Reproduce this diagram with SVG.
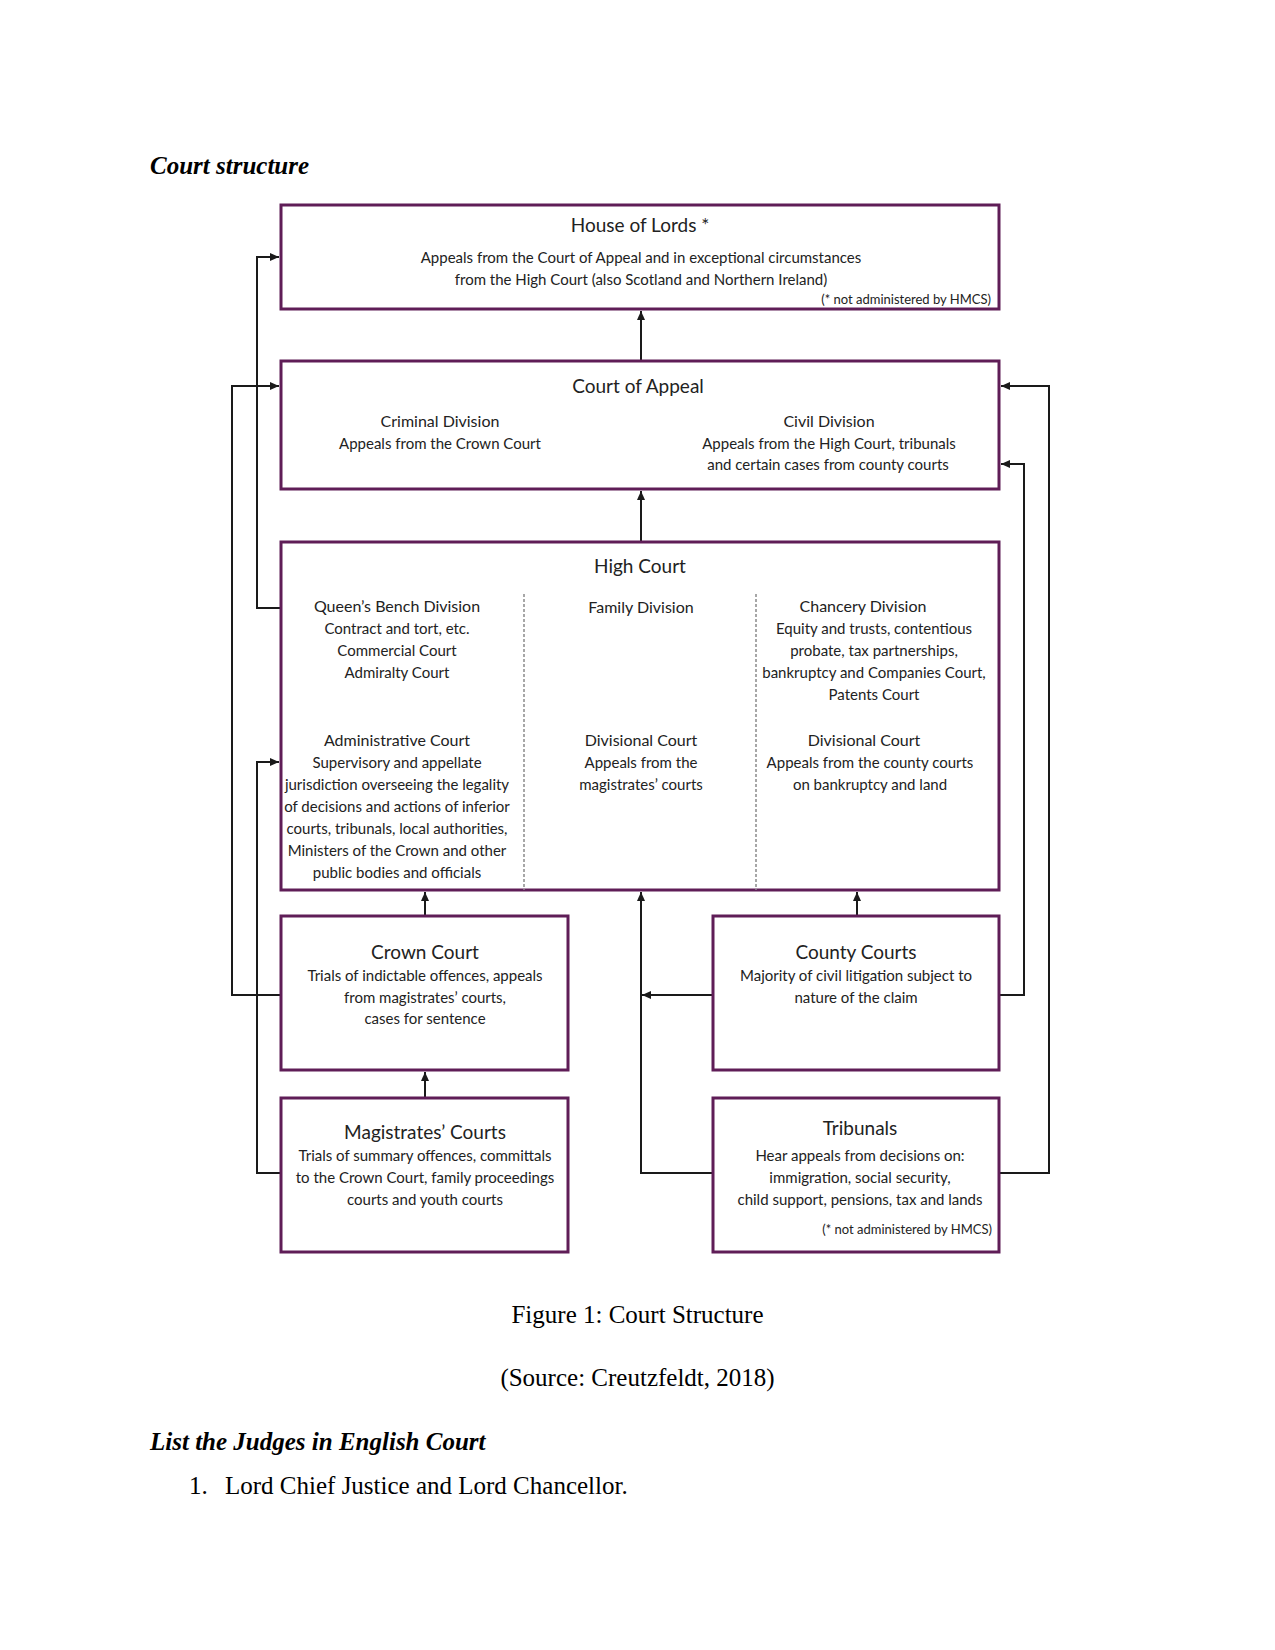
<svg xmlns="http://www.w3.org/2000/svg" width="1275" height="1650" viewBox="0 0 1275 1650">
<style>
.box{fill:#fff;stroke:#5f1d57;stroke-width:3}
.div{stroke:#8a8a8a;stroke-width:1.5;stroke-dasharray:3 2;fill:none}
.t{font-family:Lato,"Open Sans",sans-serif;fill:#222;text-anchor:middle}
.h{font-size:19px}
.b{font-size:15px}
.s{font-size:13px;text-anchor:end}
.c{fill:none;stroke:#1a1a1a;stroke-width:2}
.doc{font-family:"Liberation Serif",serif;font-size:25px;fill:#000}
.hd{font-weight:bold;font-style:italic}
</style>
<defs>
<marker id="ar" markerUnits="userSpaceOnUse" markerWidth="10" markerHeight="10" refX="9" refY="5" orient="auto">
<path d="M0,1 L9,5 L0,9 Z" fill="#1a1a1a"/>
</marker>
</defs>
<rect width="1275" height="1650" fill="#fff"/>
<text class="doc hd" x="150" y="174">Court structure</text>

<g id="connectors">
<path class="c" d="M641,361 V311" marker-end="url(#ar)"/>
<path class="c" d="M641,542 V491" marker-end="url(#ar)"/>
<path class="c" d="M425,916 V892" marker-end="url(#ar)"/>
<path class="c" d="M857,916 V892" marker-end="url(#ar)"/>
<path class="c" d="M425,1098 V1072" marker-end="url(#ar)"/>
<path class="c" d="M713,1173 H641 V892" marker-end="url(#ar)"/>
<path class="c" d="M713,995 H642" marker-end="url(#ar)"/>
<path class="c" d="M281,995 H232 V386 H279" marker-end="url(#ar)"/>
<path class="c" d="M281,608 H257 V257 H279" marker-end="url(#ar)"/>
<path class="c" d="M281,1173 H257 V762 H279" marker-end="url(#ar)"/>
<path class="c" d="M999,1173 H1049 V386 H1001" marker-end="url(#ar)"/>
<path class="c" d="M999,995 H1024 V464 H1001" marker-end="url(#ar)"/>
</g>

<g id="house-of-lords">
<rect class="box" x="281" y="205" width="718" height="104"/>
<text class="t h" x="640" y="232">House of Lords *</text>
<text class="t b" x="641" y="263">Appeals from the Court of Appeal and in exceptional circumstances</text>
<text class="t b" x="641" y="285">from the High Court (also Scotland and Northern Ireland)</text>
<text class="t s" x="991" y="304">(* not administered by HMCS)</text>
</g>

<g id="court-of-appeal">
<rect class="box" x="281" y="361" width="718" height="128"/>
<text class="t h" x="638" y="393">Court of Appeal</text>
<text class="t b" x="440" y="427" style="font-size:16px">Criminal Division</text>
<text class="t b" x="440" y="449">Appeals from the Crown Court</text>
<text class="t b" x="829" y="427" style="font-size:16px">Civil Division</text>
<text class="t b" x="829" y="449">Appeals from the High Court, tribunals</text>
<text class="t b" x="828" y="470">and certain cases from county courts</text>
</g>

<g id="high-court">
<rect class="box" x="281" y="542" width="718" height="348"/>
<line class="div" x1="524" y1="594" x2="524" y2="890"/>
<line class="div" x1="756" y1="594" x2="756" y2="890"/>
<text class="t h" x="640" y="573">High Court</text>
<text class="t b" x="397" y="612" style="font-size:16px">Queen’s Bench Division</text>
<text class="t b" x="397" y="634">Contract and tort, etc.</text>
<text class="t b" x="397" y="656">Commercial Court</text>
<text class="t b" x="397" y="678">Admiralty Court</text>
<text class="t b" x="641" y="613" style="font-size:16px">Family Division</text>
<text class="t b" x="863" y="612" style="font-size:16px">Chancery Division</text>
<text class="t b" x="874" y="634">Equity and trusts, contentious</text>
<text class="t b" x="874" y="656">probate, tax partnerships,</text>
<text class="t b" x="874" y="678">bankruptcy and Companies Court,</text>
<text class="t b" x="874" y="700">Patents Court</text>
<text class="t b" x="397" y="746" style="font-size:16px">Administrative Court</text>
<text class="t b" x="397" y="768">Supervisory and appellate</text>
<text class="t b" x="397" y="790">jurisdiction overseeing the legality</text>
<text class="t b" x="397" y="812">of decisions and actions of inferior</text>
<text class="t b" x="397" y="834">courts, tribunals, local authorities,</text>
<text class="t b" x="397" y="856">Ministers of the Crown and other</text>
<text class="t b" x="397" y="878">public bodies and officials</text>
<text class="t b" x="641" y="746" style="font-size:16px">Divisional Court</text>
<text class="t b" x="641" y="768">Appeals from the</text>
<text class="t b" x="641" y="790">magistrates’ courts</text>
<text class="t b" x="864" y="746" style="font-size:16px">Divisional Court</text>
<text class="t b" x="870" y="768">Appeals from the county courts</text>
<text class="t b" x="870" y="790">on bankruptcy and land</text>
</g>

<g id="crown-court">
<rect class="box" x="281" y="916" width="287" height="154"/>
<text class="t h" x="425" y="959">Crown Court</text>
<text class="t b" x="425" y="981">Trials of indictable offences, appeals</text>
<text class="t b" x="425" y="1003">from magistrates’ courts,</text>
<text class="t b" x="425" y="1024">cases for sentence</text>
</g>

<g id="county-courts">
<rect class="box" x="713" y="916" width="286" height="154"/>
<text class="t h" x="856" y="959">County Courts</text>
<text class="t b" x="856" y="981">Majority of civil litigation subject to</text>
<text class="t b" x="856" y="1003">nature of the claim</text>
</g>

<g id="magistrates-courts">
<rect class="box" x="281" y="1098" width="287" height="154"/>
<text class="t h" x="425" y="1139">Magistrates’ Courts</text>
<text class="t b" x="425" y="1161">Trials of summary offences, committals</text>
<text class="t b" x="425" y="1183">to the Crown Court, family proceedings</text>
<text class="t b" x="425" y="1205">courts and youth courts</text>
</g>

<g id="tribunals">
<rect class="box" x="713" y="1098" width="286" height="154"/>
<text class="t h" x="860" y="1135">Tribunals</text>
<text class="t b" x="860" y="1161">Hear appeals from decisions on:</text>
<text class="t b" x="860" y="1183">immigration, social security,</text>
<text class="t b" x="860" y="1205">child support, pensions, tax and lands</text>
<text class="t s" x="992" y="1234">(* not administered by HMCS)</text>
</g>

<text class="doc" x="637.5" y="1323" text-anchor="middle">Figure 1: Court Structure</text>
<text class="doc" x="637.5" y="1386" text-anchor="middle">(Source: Creutzfeldt, 2018)</text>
<text class="doc hd" x="150" y="1450">List the Judges in English Court</text>
<text class="doc" x="189" y="1494">1.</text>
<text class="doc" x="225" y="1494">Lord Chief Justice and Lord Chancellor.</text>
</svg>
